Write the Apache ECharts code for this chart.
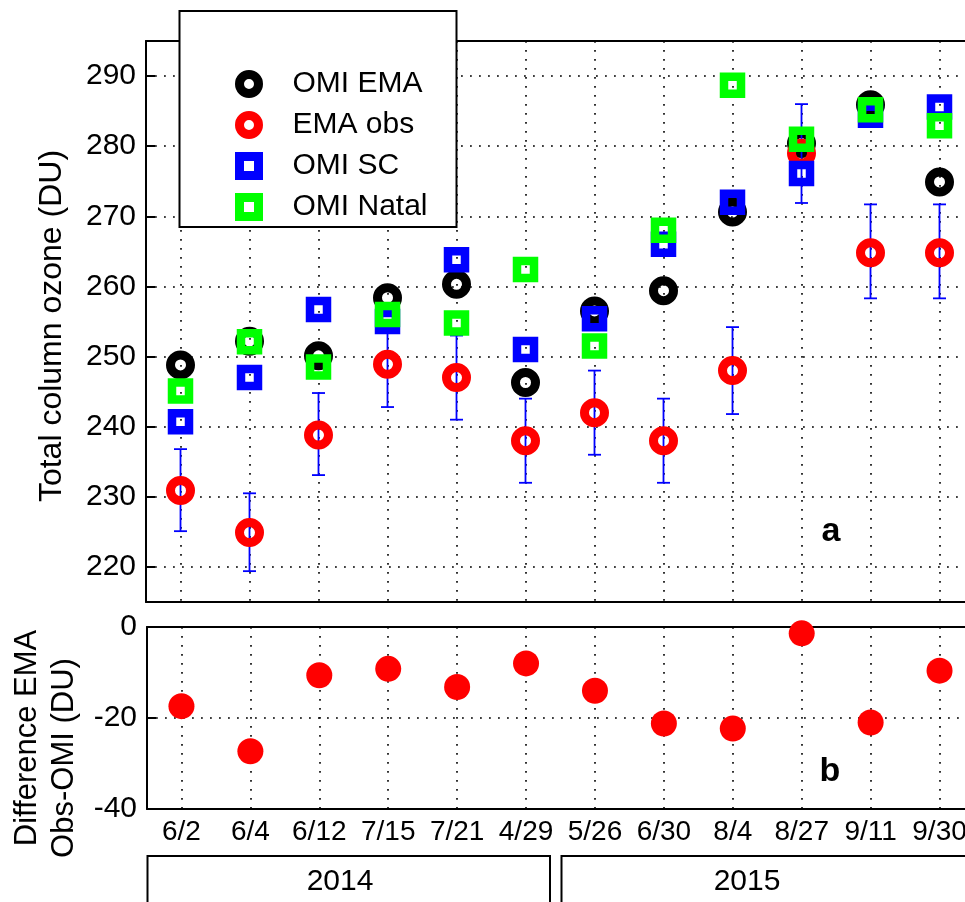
<!DOCTYPE html>
<html>
<head>
<meta charset="utf-8">
<script src="https://cdn.jsdelivr.net/npm/echarts@6/dist/echarts.min.js"></script>
<style>
html,body{margin:0;padding:0;background:#fff;}
#chart{width:965px;height:902px;}
</style>
</head>
<body>
<div id="chart"></div>
<script>
// ---- data ----
const categories = ['6/2','6/4','6/12','7/15','7/21','4/29','5/26','6/30','8/4','8/27','9/11','9/30'];
const omiEma   = [248.8, 252.2, 250.1, 258.4, 260.3, 246.3, 256.5, 259.4, 270.6, 280.4, 285.9, 274.9];
const emaObs   = [230.9, 224.9, 238.8, 248.9, 247.0, 238.0, 242.0, 238.0, 248.0, 279.0, 264.8, 264.8];
const errLow   = [225.1, 219.4, 233.1, 242.8, 241.0, 232.0, 236.0, 232.0, 241.8, 271.9, 258.3, 258.3];
const errHigh  = [236.8, 230.5, 244.8, 255.0, 253.0, 244.0, 248.0, 244.0, 254.2, 286.0, 271.7, 271.7];
const omiSc    = [240.7, 247.0, 256.7, 255.0, 263.8, 251.0, 255.4, 266.0, 272.0, 276.1, 284.4, 285.6];
const omiNatal = [245.1, 252.1, 248.5, 256.0, 254.8, 262.4, 251.5, 268.0, 288.7, 281.0, 285.2, 282.9];
const diffObsOmi = [-17.4, -27.3, -10.6, -9.2, -13.2, -8.0, -14.0, -21.2, -22.3, -1.4, -21.0, -9.6];
const years = ['2014', '2015'];
const seriesNames = ['OMI EMA', 'EMA obs', 'OMI SC', 'OMI Natal'];

const FONT = '"Liberation Sans", Arial, Helvetica, sans-serif';
const AX = '#000';
const dotted = { type: [1.8, 7.2], color: '#000', width: 1.6 };

function xAxisCfg(grid, pos, labels, split) {
  return {
    type: 'category', gridIndex: grid, position: pos, data: categories, boundaryGap: true,
    axisLine: { onZero: false, lineStyle: { color: AX, width: 2 } },
    axisTick: { inside: true, alignWithLabel: true, interval: 0, length: 9, lineStyle: { color: AX, width: 2 } },
    axisLabel: { show: labels, interval: 0, fontSize: 28, fontFamily: FONT, color: '#000', margin: 9 },
    splitLine: { show: split, alignWithLabel: true, interval: 0, lineStyle: dotted }
  };
}

const chart = echarts.init(document.getElementById('chart'), null, { renderer: 'canvas' });

const option = {
  animation: false,
  backgroundColor: '#fff',
  grid: [
    { left: 146, top: 41, width: 828, height: 561, outerBoundsMode: 'none', containLabel: false },
    { left: 147, top: 627, width: 827, height: 182, outerBoundsMode: 'none', containLabel: false }
  ],
  xAxis: [
    xAxisCfg(0, 'bottom', false, true),
    xAxisCfg(0, 'top', false, false),
    xAxisCfg(1, 'bottom', true, true),
    xAxisCfg(1, 'top', false, false)
  ],
  yAxis: [
    {
      type: 'value', gridIndex: 0, min: 215, max: 295, splitNumber: 8,
      name: '{t|Total column ozone (DU)}', nameLocation: 'middle', nameGap: 78,
      nameTextStyle: {
        fontSize: 32, fontFamily: FONT, color: '#000',
        rich: { t: { fontSize: 32, fontFamily: FONT, color: '#000', padding: [0, 9, 0, 0] } }
      },
      axisLine: { show: true, lineStyle: { color: AX, width: 2 } },
      axisTick: { show: true, inside: true, length: 9, lineStyle: { color: AX, width: 2 } },
      axisLabel: { fontSize: 30, fontFamily: FONT, color: '#000', margin: 10, showMinLabel: false, showMaxLabel: false },
      splitLine: { show: true, lineStyle: dotted }
    },
    {
      type: 'value', gridIndex: 1, min: -40, max: 0, interval: 20,
      name: '{l1|Difference EMA}\n{l2|Obs-OMI (DU)}', nameLocation: 'middle', nameGap: 64,
      nameTextStyle: {
        fontSize: 31, fontFamily: FONT, color: '#000', lineHeight: 37,
        rich: {
          l1: { fontSize: 31, fontFamily: FONT, color: '#000', lineHeight: 37, padding: [0, 40, 0, 0] },
          l2: { fontSize: 31, fontFamily: FONT, color: '#000', lineHeight: 37, padding: [0, 80, 0, 0] }
        }
      },
      axisLine: { show: true, lineStyle: { color: AX, width: 2 } },
      axisTick: { show: true, inside: true, length: 9, lineStyle: { color: AX, width: 2 } },
      axisLabel: { fontSize: 30, fontFamily: FONT, color: '#000', margin: 10 },
      splitLine: { show: true, lineStyle: dotted }
    }
  ],
  legend: {
    data: seriesNames, orient: 'vertical', left: 230, top: 64,
    itemWidth: 19, itemHeight: 19, itemGap: 11, selectedMode: false, z: 10,
    itemStyle: { borderWidth: 9 },
    textStyle: { fontSize: 30, fontFamily: FONT, color: '#000', padding: [0, 0, 0, 29] }
  },
  graphic: [
    { type: 'rect', z: 5, shape: { x: 179.5, y: 11, width: 277, height: 216 },
      style: { fill: '#fff', stroke: '#000', lineWidth: 2 } },
    { type: 'rect', z: 5, shape: { x: 147.5, y: 856, width: 402.5, height: 80 },
      style: { fill: 'none', stroke: '#000', lineWidth: 2 } },
    { type: 'rect', z: 5, shape: { x: 561.5, y: 856, width: 500, height: 80 },
      style: { fill: 'none', stroke: '#000', lineWidth: 2 } },
    { type: 'text', z: 5, x: 340, y: 882,
      style: { text: years[0], fontSize: 30, fontFamily: FONT, fill: '#000', align: 'center', verticalAlign: 'middle' } },
    { type: 'text', z: 5, x: 747, y: 882,
      style: { text: years[1], fontSize: 30, fontFamily: FONT, fill: '#000', align: 'center', verticalAlign: 'middle' } },
    { type: 'text', z: 5, x: 831, y: 532,
      style: { text: 'a', fontSize: 34, fontWeight: 'bold', fontFamily: FONT, fill: '#000', align: 'center', verticalAlign: 'middle' } },
    { type: 'text', z: 5, x: 830, y: 772,
      style: { text: 'b', fontSize: 34, fontWeight: 'bold', fontFamily: FONT, fill: '#000', align: 'center', verticalAlign: 'middle' } }
  ],
  series: [
    {
      name: seriesNames[0], type: 'scatter', xAxisIndex: 0, yAxisIndex: 0,
      symbol: 'circle', symbolSize: 20, data: omiEma, z: 2,
      itemStyle: { color: 'rgba(0,0,0,0)', borderColor: '#000000', borderWidth: 9, opacity: 1 }
    },
    {
      name: 'err', type: 'custom', xAxisIndex: 0, yAxisIndex: 0, z: 3,
      data: categories.map((c, i) => [i, errLow[i], errHigh[i]]),
      renderItem: function (params, api) {
        const i = api.value(0);
        const lo = api.coord([i, api.value(1)]);
        const hi = api.coord([i, api.value(2)]);
        const w = 6.5;
        const st = { stroke: '#0000ff', lineWidth: 1.8 };
        return {
          type: 'group',
          children: [
            { type: 'line', shape: { x1: lo[0], y1: lo[1], x2: hi[0], y2: hi[1] }, style: st },
            { type: 'line', shape: { x1: lo[0] - w, y1: lo[1], x2: lo[0] + w, y2: lo[1] }, style: st },
            { type: 'line', shape: { x1: hi[0] - w, y1: hi[1], x2: hi[0] + w, y2: hi[1] }, style: st }
          ]
        };
      }
    },
    {
      name: seriesNames[1], type: 'scatter', xAxisIndex: 0, yAxisIndex: 0,
      symbol: 'circle', symbolSize: 20, data: emaObs, z: 4,
      itemStyle: { color: 'rgba(0,0,0,0)', borderColor: '#ff0000', borderWidth: 9, opacity: 1 }
    },
    {
      name: seriesNames[2], type: 'scatter', xAxisIndex: 0, yAxisIndex: 0,
      symbol: 'rect', symbolSize: 17, data: omiSc, z: 4,
      itemStyle: { color: 'rgba(0,0,0,0)', borderColor: '#0000ff', borderWidth: 8.5, opacity: 1 }
    },
    {
      name: seriesNames[3], type: 'scatter', xAxisIndex: 0, yAxisIndex: 0,
      symbol: 'rect', symbolSize: 17, data: omiNatal, z: 4,
      itemStyle: { color: 'rgba(0,0,0,0)', borderColor: '#00ff00', borderWidth: 8.5, opacity: 1 }
    },
    {
      name: 'diff', type: 'scatter', xAxisIndex: 2, yAxisIndex: 1,
      symbol: 'circle', symbolSize: 26, data: diffObsOmi, z: 4,
      itemStyle: { color: '#ff0000', opacity: 1 }
    }
  ]
};
chart.setOption(option);
</script>
</body>
</html>
